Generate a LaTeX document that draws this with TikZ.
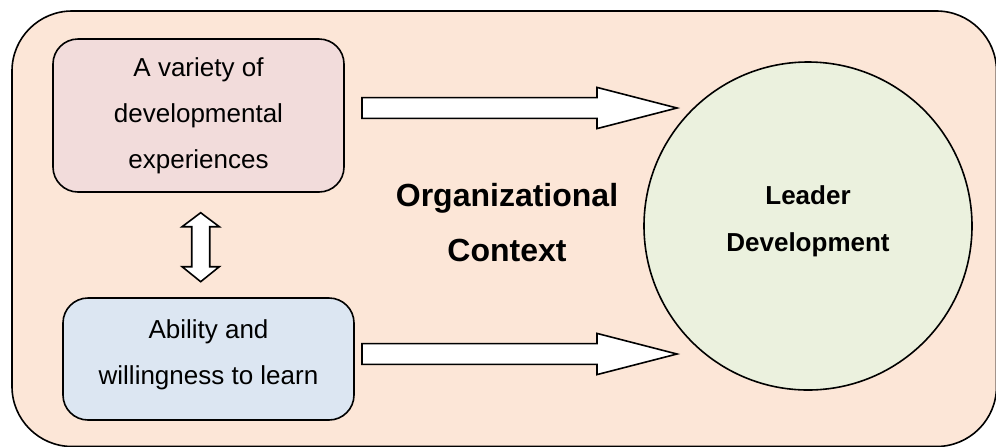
\documentclass[tikz,border=0pt]{standalone}
\usepackage{fontspec}
\setmainfont{Liberation Sans}
\usetikzlibrary{calc}
\definecolor{ctxfill}{RGB}{252,230,215}
\definecolor{varfill}{RGB}{242,220,219}
\definecolor{ablfill}{RGB}{220,230,242}
\definecolor{ldfill}{RGB}{235,241,222}
% block arrow from #1 (tail) to #2 (tip), horizontal
\newcommand{\fatarrow}[2]{%
  \draw[fatarr] let \p1=(#1), \p2=(#2) in
    (\x1,\y1+5.2pt) -- (\x2-40pt,\y1+5.2pt) -- (\x2-40pt,\y1+10.3pt) -- (\x2,\y1)
    -- (\x2-40pt,\y1-10.3pt) -- (\x2-40pt,\y1-5.2pt) -- (\x1,\y1-5.2pt) -- cycle;}
% vertical double block arrow between #1 (top tip) and #2 (bottom tip)
\newcommand{\dblarrow}[2]{%
  \draw[fatarr] let \p1=(#1), \p2=(#2) in
    (\x1,\y1) -- (\x1+9.3pt,\y1-7pt) -- (\x1+4.5pt,\y1-7pt) -- (\x1+4.5pt,\y2+7.5pt)
    -- (\x1+9.3pt,\y2+7.5pt) -- (\x1,\y2) -- (\x1-9.3pt,\y2+7.5pt) -- (\x1-4.5pt,\y2+7.5pt)
    -- (\x1-4.5pt,\y1-7pt) -- (\x1-9.3pt,\y1-7pt) -- cycle;}

\begin{document}
\begin{tikzpicture}[x=0.5pt, y=-0.5pt,
    box/.style={rectangle, draw, line width=0.8pt, rounded corners=12.5pt,
                minimum width=145.5pt, align=center, font=\fontsize{13}{23}\selectfont},
    fatarr/.style={fill=white, draw, line width=0.8pt, line join=miter}]
    \useasboundingbox (0,0) rectangle (996,446);
    \node[draw, fill=ctxfill, line width=0.8pt, rounded corners=30pt,
          minimum width=492.25pt, minimum height=217.75pt] (ctx) at (504.25,228.75) {};
    \node[box, fill=varfill, minimum height=76.5pt] (var) at (198.5,115.5)
        {A variety of\\developmental\\experiences};
    \node[box, fill=ablfill, minimum height=61pt, text depth=6.7pt] (abl) at (208.5,359)
        {Ability and\\willingness to learn};
    \node[circle, draw, fill=ldfill, line width=0.8pt, minimum size=164pt, inner sep=0pt,
          align=center, text depth=7.7pt,
          font=\bfseries\fontsize{13}{23.5}\selectfont] (ld) at (808,226)
        {Leader\\Development};
    \node[align=center, font=\bfseries\fontsize{16}{27.5}\selectfont] (ctxlabel) at (507,222.5)
        {Organizational\\Context};
    \coordinate (vartail) at (362,108);
    \coordinate (vartip) at (677,108);
    \coordinate (abltail) at (362,354);
    \coordinate (abltip) at (677,354);
    \coordinate (dbltop) at (200.7,212.7);
    \coordinate (dblbot) at (200.7,281.7);
    \fatarrow{vartail}{vartip}
    \fatarrow{abltail}{abltip}
    \dblarrow{dbltop}{dblbot}
\end{tikzpicture}
\end{document}
